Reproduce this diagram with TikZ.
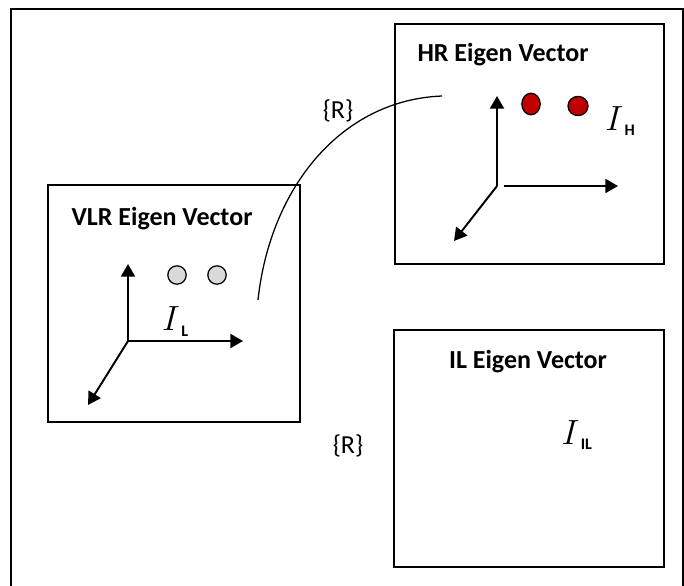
\documentclass[tikz,border=0pt]{standalone}
\usepackage{fontspec}
\setmainfont{Carlito}
\usetikzlibrary{arrows.meta,positioning}
\definecolor{dotred}{HTML}{C00000}
\definecolor{dotgray}{HTML}{D9D9D9}
\tikzstyle{box} = [line width=1.4pt]
\tikzstyle{box label} = [font=\fontsize{18.5}{22}\selectfont\bfseries]
\tikzstyle{rel label} = [font=\fontsize{18.5}{22}\selectfont]
\tikzstyle{axis arrow} = [line width=1.4pt,-{Triangle[length=9pt,width=10pt]}]
\tikzstyle{dot} = [line width=0.9pt]
\tikzstyle{eig label} = [font=\fontsize{23}{27}\selectfont,inner sep=0pt]
\newcommand{\eig}[1]{$I$\kern1pt\raisebox{-0.35ex}{\fontsize{11.5}{12}\selectfont\bfseries #1}}

\begin{document}
\begin{tikzpicture}
        \useasboundingbox (0,0) rectangle (17.1,14.625);
        % outer frame
        \draw[box] (0.275,14.4) rectangle (17.075,-0.5);
        % rectangles
        \draw[box] (9.875,14.025) rectangle (16.6,8.025);
        \draw[box] (1.2,10) rectangle (7.5,4.075);
        \draw[box] (9.85,6.375) rectangle (16.6,0.45);
        % rectangle labels
        \node[box label] (hr title) at (12.575,13.25) {HR Eigen Vector};
        \node[box label] (vlr title) at (4.05,9.15) {VLR Eigen Vector};
        \node[box label] (il title) at (13.2,5.575) {IL Eigen Vector};

        % HR axes
        \coordinate (hr o) at (12.425,9.975);
        \draw[axis arrow] (hr o) -- ++(0,2.25);
        \draw[axis arrow] (hr o) ++(0.175,0) -- ++(2.85,0);
        \draw[axis arrow] (hr o) -- ++(-1.075,-1.375);
        % HR dots
        \draw[dot,fill=dotred] (13.275,12.025) ellipse (0.23 and 0.27);
        \draw[dot,fill=dotred] (14.45,11.975) ellipse (0.25 and 0.24);
        \node[eig label] (ih) at (15.5,11.6) {\eig{H}};

        % VLR axes
        \coordinate (vlr o) at (3.2,6.1);
        \draw[axis arrow] (vlr o) -- ++(0,1.925);
        \draw[axis arrow] (vlr o) -- ++(2.875,0);
        \draw[axis arrow] (vlr o) -- ++(-1,-1.6);
        % VLR dots
        \draw[dot,fill=dotgray] (4.425,7.75) circle (0.23);
        \draw[dot,fill=dotgray] (5.425,7.75) circle (0.23);
        \node[eig label] (il) at (4.38,6.5875) {\eig{L}};

        % IL label
        \node[eig label] (iil) at (14.42,3.75) {\eig{IL}};

        % relation curve
        \coordinate (vlr end) at (6.45,7.125);
        \coordinate (hr end) at (11.05,12.225);
        \draw[line width=0.9pt] (vlr end) .. controls +(0.3,2.8) and +(-2.53,-0.1) .. (hr end);
        \node[rel label] (r top) at (8.45,11.85) {\{R\}};
        \node[rel label] (r bottom) at (8.7,3.475) {\{R\}};
\end{tikzpicture}
\end{document}
